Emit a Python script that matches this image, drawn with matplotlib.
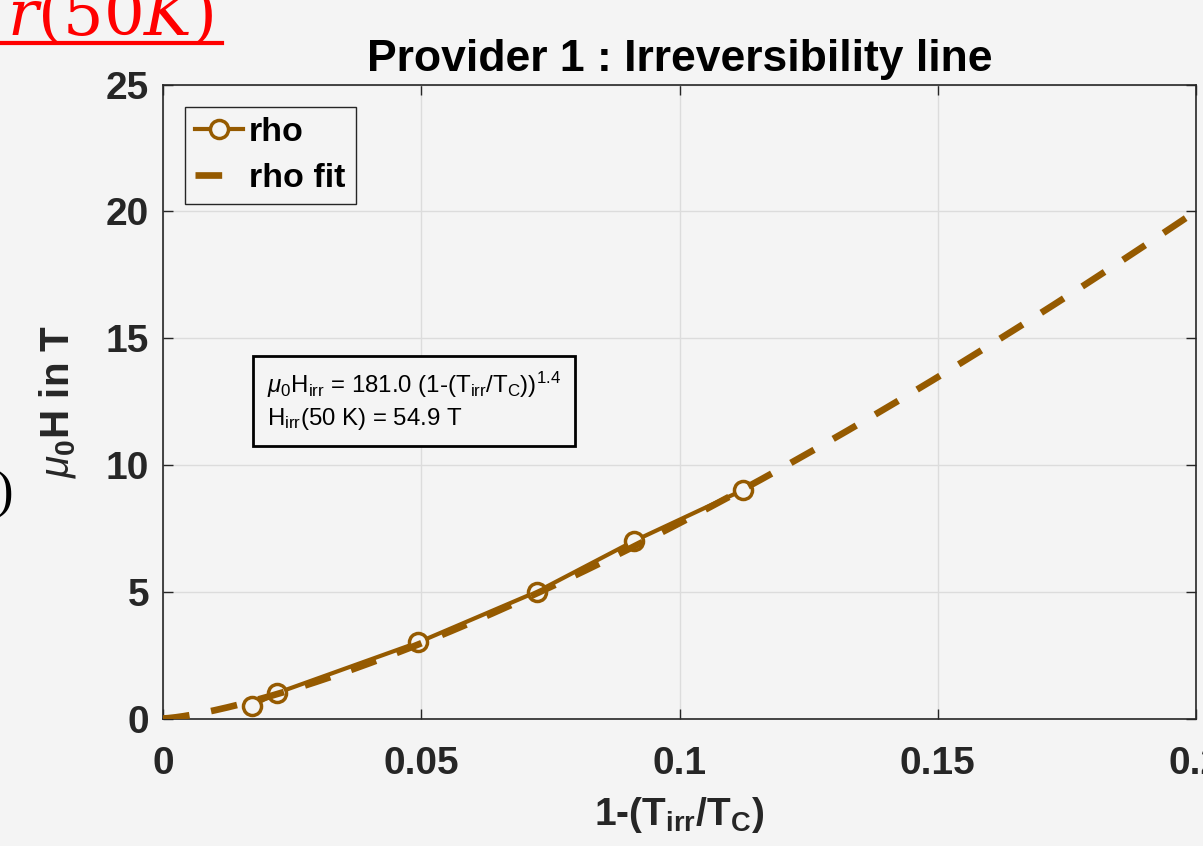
import numpy as np
import matplotlib
matplotlib.use("Agg")
import matplotlib.pyplot as plt
from matplotlib.lines import Line2D

# ---- data ----
rho_x = [0.0172, 0.0220, 0.0494, 0.0724, 0.0912, 0.1122]
rho_y = [0.5, 1.0, 3.0, 5.0, 7.0, 9.0]
fit_coef = 183.5
fit_exp = 1.377
fit_xmax = 0.2
xticks = [0, 0.05, 0.1, 0.15, 0.2]
xticklabels = ['0', '0.05', '0.1', '0.15', '0.2']
yticks = [0, 5, 10, 15, 20, 25]
yticklabels = ['0', '5', '10', '15', '20', '25']
title = 'Provider 1 : Irreversibility line'
legend_labels = ['rho', 'rho fit']
annot_lines = [r'$\mu_0$H$_{\mathrm{irr}}$ = 181.0 (1-(T$_{\mathrm{irr}}$/T$_{\mathrm{C}}$))$^{1.4}$',
               r'H$_{\mathrm{irr}}$(50 K) = 54.9 T']

BG = '#F4F4F4'
BROWN = '#955A00'
DARK = '#262626'

plt.rcParams['font.family'] = ['Liberation Sans', 'DejaVu Sans']
plt.rcParams['mathtext.fontset'] = 'custom'
plt.rcParams['mathtext.rm'] = 'Liberation Sans'
plt.rcParams['mathtext.it'] = 'Liberation Sans:italic'
plt.rcParams['mathtext.bf'] = 'Liberation Sans:bold'

fig = plt.figure(figsize=(12.03, 8.46), dpi=100, facecolor=BG)
ax = fig.add_axes([163/1203, 1-718.5/846, (1196-163)/1203, (718.5-84.5)/846])
ax.set_facecolor(BG)

fit_x = np.linspace(0, fit_xmax, 400)
fit_y = fit_coef * fit_x ** fit_exp

ax.plot(rho_x, rho_y, '-o', color=BROWN, lw=3.0, ms=13, mew=2.5,
        mfc=BG, mec=BROWN, label=legend_labels[0], zorder=3)
ax.plot(fit_x, fit_y, '--', color=BROWN, lw=4.8, dashes=(4.0, 3.3),
        label=legend_labels[1], zorder=4)

ax.set_xlim(0, 0.2)
ax.set_ylim(0, 25)
ax.set_xticks(xticks)
ax.set_xticklabels(xticklabels)
ax.set_yticks(yticks)
ax.set_yticklabels(yticklabels)
ax.grid(True, color='#DCDCDC', lw=1.0)
ax.set_axisbelow(True)
for s in ax.spines.values():
    s.set_color(DARK)
    s.set_linewidth(1.2)
ax.tick_params(direction='in', length=7, width=1.0, color=DARK,
               top=True, right=True, labelsize=28, labelcolor=DARK)
ax.tick_params(axis='x', pad=20)
ax.tick_params(axis='y', pad=10)
for lab in ax.get_xticklabels() + ax.get_yticklabels():
    lab.set_fontweight('bold')
    lab.set_clip_on(False)

ax.set_title(title, fontsize=32, fontweight='bold', pad=10, color='black')
ax.set_xlabel(r'1-(T$_{\mathbf{irr}}$/T$_{\mathbf{C}}$)', fontsize=28,
              fontweight='bold', color=DARK)
ax.xaxis.set_label_coords(0.5, -0.12)
ax.set_ylabel(r'$\mu_{\mathbf{0}}$H in T', fontsize=29, fontweight='bold', color=DARK)
ax.yaxis.set_label_coords(-0.082, 0.5)

leg = ax.legend(loc='upper left', bbox_to_anchor=(0.0213, 0.9645), borderaxespad=0,
                prop={'weight': 'bold', 'size': 24.5},
                handlelength=1.4, handletextpad=0.18, borderpad=0.3,
                labelspacing=0.42, fancybox=False, framealpha=1,
                facecolor=BG, edgecolor=DARK)
leg.get_frame().set_linewidth(1.0)

ax.text((267-163)/1033, (718.5-401)/634, '\n'.join(annot_lines), fontsize=17.3,
        transform=ax.transAxes, va='center', ha='left', linespacing=1.28,
        bbox=dict(boxstyle='square,pad=0.6', facecolor=BG, edgecolor='black', lw=2.0))

# cropped slide fragments
fig.text(213/1203, 1-35/846, r'$r(50K)$', color='red', fontsize=46,
         ha='right', va='baseline', math_fontfamily='dejavuserif')
fig.add_artist(Line2D([0, 222/1203], [1-43/846, 1-43/846], color='red', lw=3,
                      transform=fig.transFigure))
fig.text(13/1203, 1-495/846, ')', color='black', fontsize=38, ha='right', va='center',
         family='Liberation Serif')

fig.savefig('out.png', dpi=100, facecolor=BG)
